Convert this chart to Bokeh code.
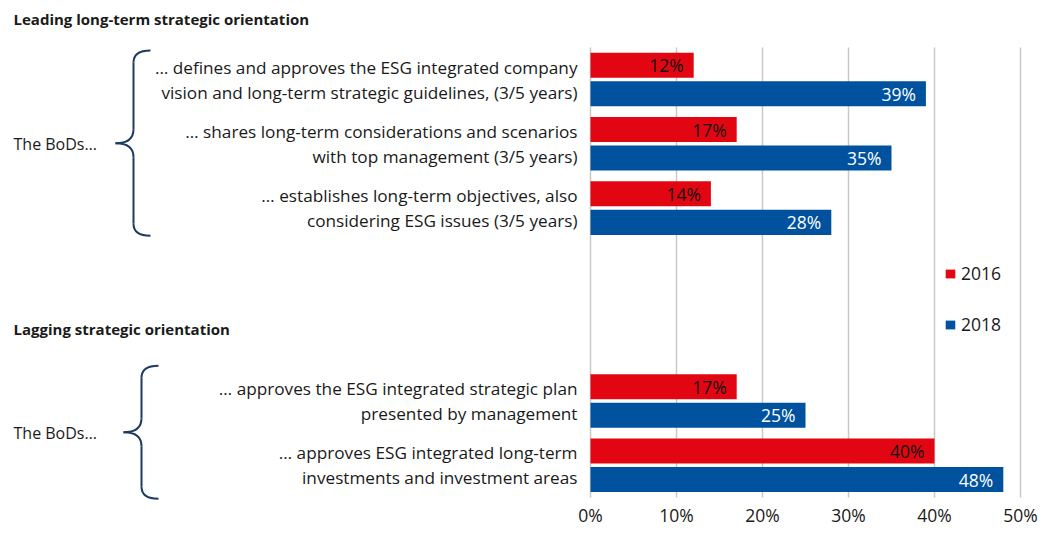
from bokeh.plotting import figure
from bokeh.models import Range1d, FixedTicker, PrintfTickFormatter, Legend, LegendItem
from bokeh.core.properties import value
from bokeh.embed import file_html
from bokeh.resources import INLINE

# ---- data ----
sections = ["Leading long-term strategic orientation", "Lagging strategic orientation"]
group_label = "The BoDs…"
categories = [
    "… defines and approves the ESG integrated company\nvision and long-term strategic guidelines, (3/5 years)",
    "… shares long-term considerations and scenarios\nwith top management (3/5 years)",
    "… establishes long-term objectives, also\nconsidering ESG issues (3/5 years)",
    "… approves the ESG integrated strategic plan\npresented by management",
    "… approves ESG integrated long-term\ninvestments and investment areas",
]
slots = [0, 1, 2, 5, 6]
groups = [[0, 1, 2], [3, 4]]
y2016 = [12, 17, 14, 17, 40]
y2018 = [39, 35, 28, 25, 48]
ticks = [0, 10, 20, 30, 40, 50]
series = ["2016", "2018"]

RED = "#e20613"
BLUE = "#00529f"
GRID = "#c8c8c8"
TXT = "#1a1a1a"
BRACE = "#1d3c62"
FONT = "Open Sans"

# ---- geometry (px per unit) ----
PX_X = 8.6      # px per percent
PX_Y = 64.3     # px per slot
X0_PAGE = 590   # picture x of 0%
S0_PAGE = 79    # picture y of slot 0
FRAME_TOP, FRAME_BOT = 0, 500
FRAME_W = 1053

def sx(px):
    return (px - X0_PAGE) / PX_X

def sy(py):
    return (py - S0_PAGE) / PX_Y

p = figure(frame_width=FRAME_W, frame_height=FRAME_BOT - FRAME_TOP,
           x_range=Range1d(sx(0), sx(FRAME_W)),
           y_range=Range1d(sy(FRAME_BOT), sy(FRAME_TOP)),
           y_axis_location=None, toolbar_location=None,
           output_backend="svg", min_border=0)
p.outline_line_color = None
p.background_fill_color = "white"

# grid
p.ygrid.visible = False
p.xgrid.ticker = FixedTicker(ticks=ticks)
p.xgrid.grid_line_color = GRID
p.xgrid.grid_line_width = 1.5
p.xgrid.cross_bounds = (slots[0] - 0.5, slots[-1] + 0.5)

# axis
ax = p.xaxis[0]
ax.ticker = FixedTicker(ticks=ticks)
ax.formatter = PrintfTickFormatter(format="%d%%")
ax.axis_line_color = None
ax.major_tick_line_color = None
ax.minor_tick_line_color = None
ax.major_tick_out = 0
ax.major_tick_in = 0
ax.minor_tick_out = 0
ax.minor_tick_in = 0
ax.major_label_standoff = 2
ax.major_label_text_font = FONT
ax.major_label_text_font_size = "17.5px"
ax.major_label_text_color = TXT

# bars
OFF = 0.222
H = 0.389
y_red = [s - OFF for s in slots]
y_blue = [s + OFF for s in slots]
r16 = p.hbar(y=y_red, right=y2016, left=0, height=H, fill_color=RED, line_color=None)
r18 = p.hbar(y=y_blue, right=y2018, left=0, height=H, fill_color=BLUE, line_color=None)

# value labels
pad = 10 / PX_X
p.text(x=[v - pad for v in y2016], y=y_red, text=[f"{v}%" for v in y2016],
       text_align="right", text_baseline="middle", text_color="#111111",
       text_font=value(FONT), text_font_size="17.5px")
p.text(x=[v - pad for v in y2018], y=y_blue, text=[f"{v}%" for v in y2018],
       text_align="right", text_baseline="middle", text_color="white",
       text_font=value(FONT), text_font_size="17.5px")

# category labels (two lines each)
lx, ly, lt = [], [], []
for cat, s in zip(categories, slots):
    lines = cat.split("\n")
    for i, ln in enumerate(lines):
        lx.append(sx(577))
        ly.append(s + (i - (len(lines) - 1) / 2) * (25 / PX_Y))
        lt.append(ln)
p.text(x=lx, y=ly, text=lt, text_align="right", text_baseline="middle",
       text_color=TXT, text_font=value(FONT), text_font_size="17.2px")

# section titles
p.text(x=[sx(13)] * 2, y=[sy(18), sy(328)], text=sections, text_align="left",
       text_baseline="middle", text_color=TXT, text_font=value(FONT),
       text_font_size="15px", text_font_style="bold")

# group labels
gc = [(slots[g[0]] + slots[g[-1]]) / 2 for g in groups]
p.text(x=[sx(13)] * len(groups), y=gc, text=[group_label] * len(groups),
       text_align="left", text_baseline="middle", text_color=TXT,
       text_font=value(FONT), text_font_size="16px")

# braces
brace_pad = [(0.45, 0.43), (0.55, 0.52)]
brace_x = [(150, 133, 115), (158, 141, 123)]
r = 12 / PX_Y
t = 14 / PX_Y
for g, (pt, pb), (xe, xv, xt) in zip(groups, brace_pad, brace_x):
    top = slots[g[0]] - pt
    bot = slots[g[-1]] + pb
    mid = (top + bot) / 2
    xe, xv, xt = sx(xe), sx(xv), sx(xt)
    p.quadratic(x0=[xe, xv, xv, xe], y0=[top, mid - t, mid + t, bot],
                x1=[xv, xt, xt, xv], y1=[top + r, mid, mid, bot - r],
                cx=[xv, xv, xv, xv], cy=[top, mid, mid, bot],
                line_color=BRACE, line_width=2)
    p.segment(x0=[xv, xv], y0=[top + r, mid + t], x1=[xv, xv], y1=[mid - t, bot - r],
              line_color=BRACE, line_width=2)

# legend
legend = Legend(items=[LegendItem(label=series[0], renderers=[r16]),
                       LegendItem(label=series[1], renderers=[r18])],
                location=(944, 164), orientation="vertical")
legend.border_line_color = None
legend.background_fill_alpha = 0
legend.glyph_width = 12
legend.glyph_height = 11
legend.label_standoff = 5
legend.spacing = 27
legend.padding = 0
legend.margin = 0
legend.label_text_font = FONT
legend.label_text_font_size = "17.5px"
legend.label_text_color = TXT
p.add_layout(legend, "center")

open("out.html", "w").write(file_html(p, INLINE))
